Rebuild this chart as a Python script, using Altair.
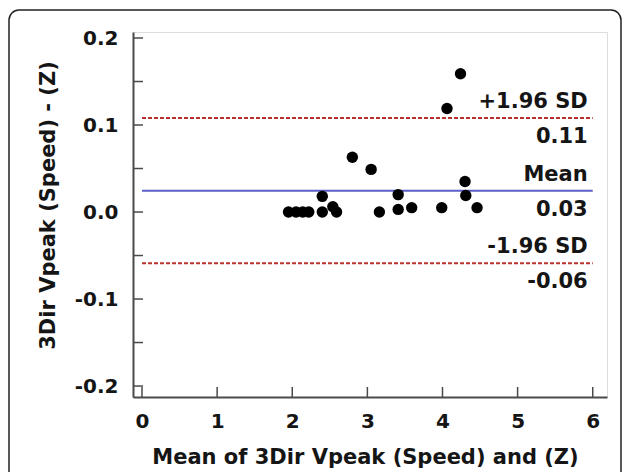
import altair as alt
import pandas as pd

# Bland-Altman data
mean_vals = [1.95, 2.05, 2.14, 2.22, 2.40, 2.40, 2.54, 2.59, 2.80, 3.05,
             3.16, 3.41, 3.41, 3.59, 3.99, 4.06, 4.24, 4.30, 4.31, 4.46]
diff_vals = [0.000, 0.000, 0.000, 0.000, 0.000, 0.018, 0.006, 0.000, 0.063, 0.049,
             0.000, 0.020, 0.003, 0.005, 0.005, 0.119, 0.159, 0.035, 0.019, 0.005]

line_names = ["+1.96 SD", "Mean", "-1.96 SD"]
line_values = [0.108, 0.0245, -0.059]
line_value_labels = ["0.11", "0.03", "-0.06"]
line_kinds = ["sd", "mean", "sd"]

x_ticks = [0, 1, 2, 3, 4, 5, 6]
y_ticks = [-0.2, -0.15, -0.1, -0.05, 0.0, 0.05, 0.1, 0.15, 0.2]
y_labels = [-0.2, -0.1, 0.0, 0.1, 0.2]

pts = pd.DataFrame({"mean": mean_vals, "diff": diff_vals})
lines = pd.DataFrame({"name": line_names, "v": line_values, "lab": line_value_labels,
                      "kind": line_kinds, "x1": [0] * 3, "x2": [6] * 3})
xt = pd.DataFrame({"t": x_ticks})
yt = pd.DataFrame({"t": y_ticks})

W, H = 474, 365
FONT = "DejaVu Sans"
TXT = "#151515"
xscale = alt.Scale(domain=[-0.12, 6.19], nice=False, zero=False)
yscale = alt.Scale(domain=[-0.2126, 0.2069], nice=False, zero=False)

points = alt.Chart(pts).mark_circle(size=130, color="black", opacity=1).encode(
    x=alt.X("mean:Q", scale=xscale, axis=alt.Axis(
        title="Mean of 3Dir Vpeak (Speed) and (Z)", values=x_ticks, format="d",
        grid=False, ticks=False, tickSize=0, labelPadding=14, labelBaseline="top",
        domainColor="#4a4a4a", domainWidth=2,
        labelFont=FONT, labelFontWeight="bold", labelFontSize=20, labelColor=TXT,
        titleFont=FONT, titleFontWeight="bold", titleFontSize=21, titleColor=TXT,
        titleX=232, titleY=49)),
    y=alt.Y("diff:Q", scale=yscale, axis=alt.Axis(
        title="3Dir Vpeak (Speed) - (Z)", values=y_labels,
        labelExpr="replace(format(datum.value, '.1f'), '\u2212', '-')",
        grid=False, ticks=False, tickSize=0, labelPadding=15,
        domainColor="#4a4a4a", domainWidth=2,
        labelFont=FONT, labelFontWeight="bold", labelFontSize=20, labelColor=TXT,
        titleFont=FONT, titleFontWeight="bold", titleFontSize=21, titleColor=TXT,
        titleX=-75, titleY=173)),
)

sd_rules = alt.Chart(lines).transform_filter("datum.kind == 'sd'").mark_rule(
    color="#b8312f", strokeWidth=2, strokeDash=[4, 2]).encode(
    x=alt.X("x1:Q", scale=xscale), x2="x2:Q", y=alt.Y("v:Q", scale=yscale))
mean_rule = alt.Chart(lines).transform_filter("datum.kind == 'mean'").mark_rule(
    color="#5a5fc6", strokeWidth=2).encode(
    x=alt.X("x1:Q", scale=xscale), x2="x2:Q", y=alt.Y("v:Q", scale=yscale))

name_text = alt.Chart(lines).mark_text(
    align="right", baseline="middle", dx=-5, dy=-16, font=FONT, fontWeight="bold",
    fontSize=21, color=TXT).encode(
    x=alt.X("x2:Q", scale=xscale), y=alt.Y("v:Q", scale=yscale), text="name:N")
val_text = alt.Chart(lines).mark_text(
    align="right", baseline="middle", dx=-5, dy=19, font=FONT, fontWeight="bold",
    fontSize=21, color=TXT).encode(
    x=alt.X("x2:Q", scale=xscale), y=alt.Y("v:Q", scale=yscale), text="lab:N")

x_tick_marks = alt.Chart(xt).mark_rule(color="#4a4a4a", strokeWidth=1.5).encode(
    x=alt.X("t:Q", scale=xscale), y=alt.value(H), y2=alt.value(H - 10))
y_tick_marks = alt.Chart(yt).mark_rule(color="#4a4a4a", strokeWidth=1.5).encode(
    y=alt.Y("t:Q", scale=yscale), x=alt.value(0), x2=alt.value(10))

frame = alt.Chart(pts).transform_aggregate(n="count()").mark_rect(
    fill=None, stroke="#222", strokeWidth=1.5, cornerRadius=10, clip=False).encode(
    x=alt.value(-124), x2=alt.value(488), y=alt.value(-22), y2=alt.value(470))

chart = alt.layer(
    frame, sd_rules, mean_rule, x_tick_marks, y_tick_marks, points, name_text, val_text
).properties(
    width=W, height=H,
    autosize=alt.AutoSizeParams(type="none"),
    padding={"left": 125, "top": 24, "right": 15, "bottom": 75},
).configure_view(stroke=None).configure(background="white")

chart.save("out.html", embed_options={"renderer": "svg", "actions": False})
